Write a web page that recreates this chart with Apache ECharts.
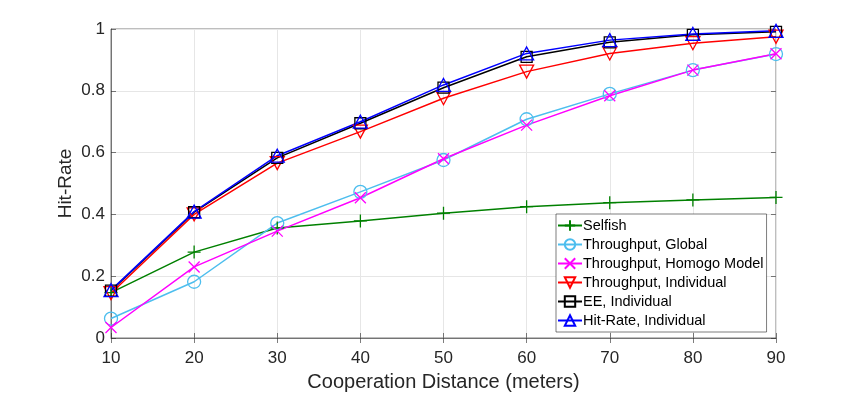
<!DOCTYPE html>
<html>
<head>
<meta charset="utf-8">
<script src="https://cdn.jsdelivr.net/npm/echarts@6/dist/echarts.min.js"></script>
<style>
  html, body { margin: 0; padding: 0; background: #fff; }
  #chart { width: 855px; height: 393px; }
</style>
</head>
<body>
<div id="chart"></div>
<script>
// cooperation distance (meters)
const distances = [10, 20, 30, 40, 50, 60, 70, 80, 90];
const yTicks = [0, 0.2, 0.4, 0.6, 0.8, 1];

const selfish = [0.147, 0.278, 0.356, 0.379, 0.404, 0.425, 0.438, 0.447, 0.455];
const tpGlobal = [0.063, 0.182, 0.372, 0.473, 0.576, 0.708, 0.790, 0.867, 0.919];
const tpHomogo = [0.034, 0.230, 0.346, 0.454, 0.580, 0.689, 0.784, 0.867, 0.920];
const tpIndividual = [0.145, 0.400, 0.566, 0.668, 0.776, 0.862, 0.921, 0.954, 0.975];
const eeIndividual = [0.153, 0.407, 0.583, 0.695, 0.810, 0.910, 0.957, 0.981, 0.991];
const hitIndividual = [0.155, 0.409, 0.590, 0.700, 0.819, 0.921, 0.964, 0.984, 0.994];

const seriesNames = [
  "Selfish",
  "Throughput, Global",
  "Throughput, Homogo Model",
  "Throughput, Individual",
  "EE, Individual",
  "Hit-Rate, Individual"
];

const chart = echarts.init(document.getElementById("chart"));

function makeSeries(name, values, color, symbol, size) {
  return {
    name: name,
    type: "line",
    data: distances.map((d, i) => [d, values[i]]),
    symbol: symbol,
    symbolSize: size,
    showAllSymbol: true,
    lineStyle: { color: color, width: 1.5 },
    itemStyle: { color: "rgba(0,0,0,0)", borderColor: color, borderWidth: 1.3 },
    emphasis: { disabled: true },
    z: 3
  };
}

const axisText = { color: "#262626", fontFamily: "Liberation Sans", fontSize: 17 };

const option = {
  animation: false,
  backgroundColor: "#fff",
  grid: {
    left: 111, right: 79, top: 29, bottom: 55,
    outerBoundsMode: "none",
    containLabel: false,
    show: true, borderColor: "#262626", borderWidth: 0.6
  },
  legend: {
    orient: "vertical",
    left: 556,
    top: 214,
    width: 211,
    itemWidth: 24,
    itemHeight: 13,
    itemGap: 4,
    padding: [4, 3, 4, 1],
    backgroundColor: "#fff",
    borderColor: "#262626",
    borderWidth: 0.6,
    borderRadius: 0,
    textStyle: { color: "#000", fontFamily: "Liberation Sans", fontSize: 14.5, padding: [0, 0, 0, -4] },
    data: seriesNames
  },
  xAxis: [
    {
      type: "value",
      min: 10, max: 90, interval: 10,
      name: "Cooperation Distance (meters)",
      nameLocation: "middle",
      nameGap: 34,
      nameMoveOverlap: false,
      nameTextStyle: { color: "#262626", fontFamily: "Liberation Sans", fontSize: 20 },
      axisLine: { show: true, lineStyle: { color: "#262626", width: 0.6 } },
      axisTick: { inside: true, length: 5, lineStyle: { color: "#262626", width: 0.6 } },
      axisLabel: Object.assign({ margin: 12 }, axisText),
      splitLine: { show: true, lineStyle: { color: "#e6e6e6", width: 1 } }
    },
    {
      type: "value",
      position: "top",
      min: 10, max: 90, interval: 10,
      axisLine: { show: false },
      axisTick: { inside: true, length: 5, lineStyle: { color: "#262626", width: 0.6 } },
      axisLabel: { show: false },
      splitLine: { show: false }
    }
  ],
  yAxis: [
    {
      type: "value",
      min: 0, max: 1, interval: 0.2,
      name: "Hit-Rate",
      nameLocation: "middle",
      nameGap: 36,
      nameMoveOverlap: false,
      nameTextStyle: { color: "#262626", fontFamily: "Liberation Sans", fontSize: 19 },
      axisLine: { show: true, lineStyle: { color: "#262626", width: 0.6 } },
      axisTick: { inside: true, length: 5, lineStyle: { color: "#262626", width: 0.6 } },
      axisLabel: Object.assign({
        margin: 6,
        formatter: (v) => {
          const t = yTicks.find((k) => Math.abs(k - v) < 1e-9);
          return t === undefined ? "" : String(t);
        }
      }, axisText),
      splitLine: { show: true, lineStyle: { color: "#e6e6e6", width: 1 } }
    },
    {
      type: "value",
      position: "right",
      min: 0, max: 1, interval: 0.2,
      axisLine: { show: false },
      axisTick: { inside: true, length: 5, lineStyle: { color: "#262626", width: 0.6 } },
      axisLabel: { show: false },
      splitLine: { show: false }
    }
  ],
  series: [
    makeSeries(seriesNames[0], selfish, "#008000", "path://M5,0L5,10M0,5L10,5", 13),
    makeSeries(seriesNames[1], tpGlobal, "#4dbeee", "circle", 13),
    makeSeries(seriesNames[2], tpHomogo, "#ff00ff", "path://M0,0L10,10M10,0L0,10", 11),
    makeSeries(seriesNames[3], tpIndividual, "#ff0000", "path://M0,0L10,0L5,9Z", [14, 13]),
    makeSeries(seriesNames[4], eeIndividual, "#000000", "rect", 11),
    makeSeries(seriesNames[5], hitIndividual, "#0000ff", "path://M5,0L10,9L0,9Z", [14, 13])
  ]
};

chart.setOption(option);
</script>
</body>
</html>
